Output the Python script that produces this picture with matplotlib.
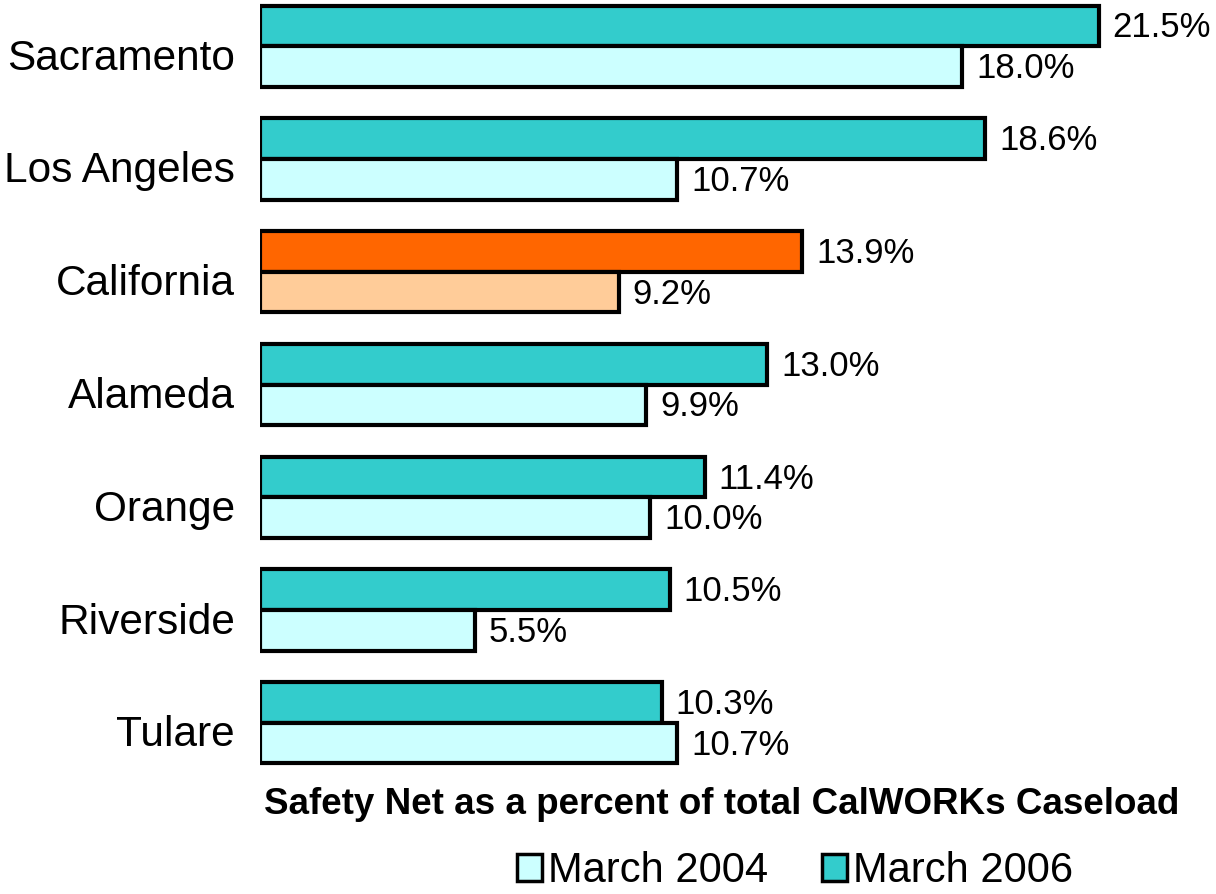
import matplotlib.pyplot as plt
from matplotlib.patches import Patch
import matplotlib.transforms as mtransforms
import numpy as np

plt.rcParams['font.family'] = ['Liberation Sans', 'DejaVu Sans']

counties = ["Sacramento", "Los Angeles", "California", "Alameda",
            "Orange", "Riverside", "Tulare"]
march_2006 = [21.5, 18.6, 13.9, 13.0, 11.4, 10.5, 10.3]
march_2004 = [18.0, 10.7, 9.2, 9.9, 10.0, 5.5, 10.7]

TEAL = "#33CCCC"
PALE = "#CCFFFF"
ORANGE = "#FF6600"
PEACH = "#FFCC99"

colors_2006 = [ORANGE if c == "California" else TEAL for c in counties]
colors_2004 = [PEACH if c == "California" else PALE for c in counties]

fig = plt.figure(figsize=(12.16, 8.94), dpi=100)
ax = fig.add_axes([260 / 1216, 126 / 894, 936 / 1216, 767 / 894])

y = np.arange(len(counties))
h = 0.36
b6 = ax.barh(y - h / 2, march_2006, height=h, color=colors_2006,
             edgecolor="black", linewidth=3)
b4 = ax.barh(y + h / 2, march_2004, height=h, color=colors_2004,
             edgecolor="black", linewidth=3)

for bars, vals in ((b6, march_2006), (b4, march_2004)):
    for bar, v in zip(bars, vals):
        ax.annotate(f"{v:.1f}%", (bar.get_width(), bar.get_y() + bar.get_height() / 2),
                    xytext=(10, -1.5), textcoords="offset points",
                    va="center", ha="left", fontsize=25, annotation_clip=False)

ax.set_xlim(0, 24)
ax.set_ylim(6.4, -0.4)
ax.set_yticks(y)
ax.set_yticklabels(counties, fontsize=30.5)
ax.tick_params(axis="y", length=0, pad=18)
# labels sit a little below the bar pair in the original
shift = mtransforms.ScaledTranslation(0, -8 / 100, fig.dpi_scale_trans)
for lbl in ax.get_yticklabels():
    lbl.set_transform(lbl.get_transform() + shift)
ax.set_xticks([])
for s in ax.spines.values():
    s.set_visible(False)

fig.text(722 / 1216, 1 - 804 / 894, "Safety Net as a percent of total CalWORKs Caseload",
         ha="center", va="center", fontsize=26.5, fontweight="bold")

handles = [Patch(facecolor=PALE, edgecolor="black", linewidth=2.5),
           Patch(facecolor=TEAL, edgecolor="black", linewidth=2.5)]
fig.legend(handles, ["March 2004", "March 2006"], ncol=2, frameon=False,
           loc="center", bbox_to_anchor=(795 / 1216, 1 - 871 / 894),
           fontsize=30, handlelength=0.6, handleheight=0.6,
           handletextpad=0.15, columnspacing=1.3, borderpad=0)

fig.savefig("out.png", dpi=100)
